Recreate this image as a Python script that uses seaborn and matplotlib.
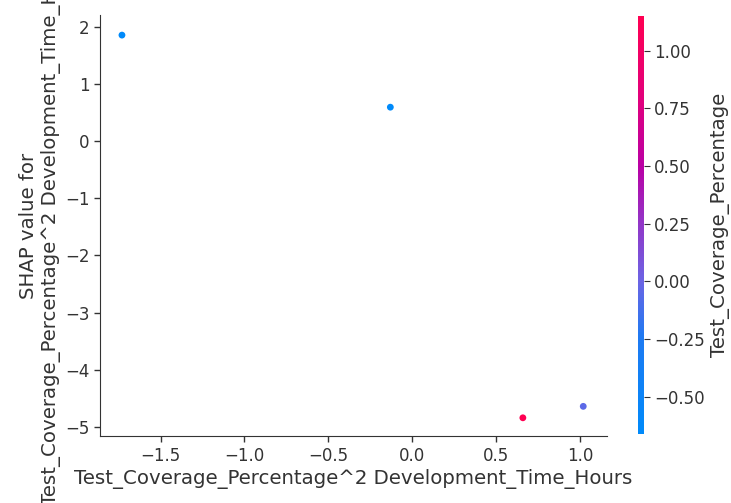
import numpy as np
import pandas as pd
import matplotlib
matplotlib.use("Agg")
import matplotlib.pyplot as plt
from matplotlib.colors import LinearSegmentedColormap, Normalize
import seaborn as sns

# data
feature_values = [-1.73, -0.13, 0.66, 1.02]
shap_values = [1.85, 0.59, -4.84, -4.64]
color_values = [-0.66, -0.66, 1.15, -0.05]

xlabel = "Test_Coverage_Percentage^2 Development_Time_Hours"
ylabel = "SHAP value for\nTest_Coverage_Percentage^2 Development_Time_Hours"
cbar_label = "Test_Coverage_Percentage"
cbar_ticks = [-0.5, -0.25, 0.0, 0.25, 0.5, 0.75, 1.0]

df = pd.DataFrame({"x": feature_values, "y": shap_values, "c": color_values})

# shap-like red_blue colormap
anchors = [
    (0.00, (0, 138, 250)),
    (0.23, (30, 122, 242)),
    (0.365, (108, 100, 228)),
    (0.50, (145, 55, 200)),
    (0.64, (185, 0, 165)),
    (0.80, (225, 0, 125)),
    (1.00, (255, 0, 82)),
]
red_blue = LinearSegmentedColormap.from_list(
    "red_blue", [(p, tuple(c / 255 for c in rgb)) for p, rgb in anchors])

sns.set_style("white")
plt.rcParams['font.family'] = ['DejaVu Sans']

fig = plt.figure(figsize=(7.31, 5.03), dpi=100)
ax = fig.add_axes([0.137, 0.133, 0.693, 0.837])
cax = fig.add_axes([0.8725, 0.138, 0.0082, 0.83])

vmin, vmax = min(color_values), max(color_values)
norm = Normalize(vmin=vmin, vmax=vmax)
sns.scatterplot(data=df, x="x", y="y", hue="c", palette=red_blue, hue_norm=norm,
                s=24, linewidth=0, legend=False, ax=ax)

ax.set_xlim(-1.86, 1.16)
ax.set_ylim(-5.16, 2.2)
ax.set_xticks([-1.5, -1.0, -0.5, 0.0, 0.5, 1.0])
ax.set_yticks([-5, -4, -3, -2, -1, 0, 1, 2])
ax.set_xlabel(xlabel, fontsize=14.2, color="#333333", labelpad=3)
ax.set_ylabel(ylabel, fontsize=14.2, color="#333333", labelpad=3)
for s in ["top", "right"]:
    ax.spines[s].set_visible(False)
for s in ["left", "bottom"]:
    ax.spines[s].set_color("#333333")
ax.tick_params(axis="both", labelsize=12, colors="#333333", length=4, width=1,
               bottom=True, left=True)

sm = matplotlib.cm.ScalarMappable(norm=norm, cmap=red_blue)
cb = fig.colorbar(sm, cax=cax, ticks=cbar_ticks)
cb.outline.set_visible(False)
cb.ax.tick_params(labelsize=12, length=4, colors="#333333")
cb.set_label(cbar_label, size=14.2, color="#333333")

fig.savefig("out.png", dpi=100)
